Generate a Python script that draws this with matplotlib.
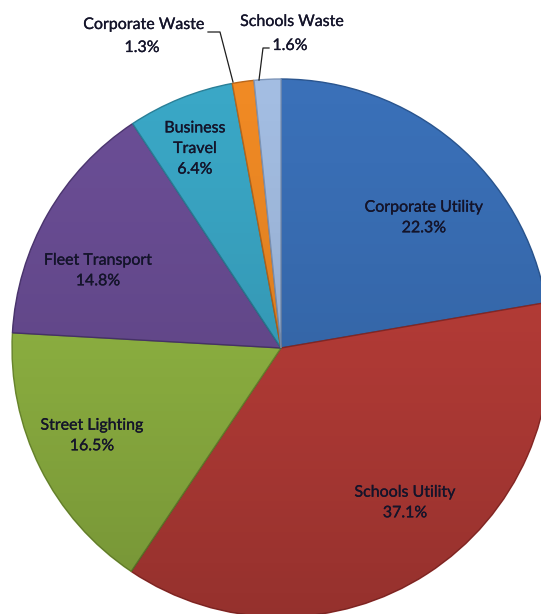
import matplotlib
matplotlib.use("Agg")
import matplotlib.pyplot as plt
import matplotlib.patheffects as pe
import numpy as np
from matplotlib.patches import Circle

categories = ["Corporate Utility", "Schools Utility", "Street Lighting",
              "Fleet Transport", "Business Travel", "Corporate Waste", "Schools Waste"]
values = [22.3, 37.1, 16.5, 14.8, 6.4, 1.3, 1.6]
colors = ["#3A70B8", "#BF3F3A", "#96BC45", "#6B4E96", "#3AA7C6", "#F08A24", "#A3BDE2"]
edge_colors = ["#2A558F", "#8E2A27", "#6E8C30", "#4C3670", "#2A7F97", "#B8661A", "#7D95B8"]

W, H = 541, 614
fig = plt.figure(figsize=(W / 100, H / 100), dpi=100)
ax = fig.add_axes([0, 0, 1, 1])

cx, cy, R = 281, H - 348, 269
wedges, _ = ax.pie(values, colors=colors, startangle=90, counterclock=False,
                   radius=R, center=(cx, cy), frame=True,
                   wedgeprops=dict(linewidth=1.0))
for w, ec in zip(wedges, edge_colors):
    w.set_edgecolor(ec)

# subtle vertical shading across the pie
grad = np.linspace(0, 1, 256)
shade = np.zeros((256, 1, 4))
shade[:, 0, 3] = (grad ** 1.3) * 0.22
im = ax.imshow(shade, extent=(cx - R, cx + R, cy - R, cy + R), origin="upper",
               aspect="auto", zorder=3, interpolation="bilinear")
im.set_clip_path(Circle((cx, cy), R, transform=ax.transData))

ax.set_xlim(0, W)
ax.set_ylim(0, H)
ax.set_aspect("auto")
ax.axis("off")

txt_color = "#14142A"
font = dict(family=["Lato", "DejaVu Sans"], fontsize=11.5, color=txt_color,
            ha="center", va="center", zorder=5, linespacing=1.6,
            path_effects=[pe.withStroke(linewidth=0.2, foreground=txt_color)])

pct = [f"{v:.1f}%" for v in values]
label_pos = [(424, 218), (405, 503), (92, 436), (98, 271), (195, 149), None, None]
for name, p, pos in zip(categories, pct, label_pos):
    if pos is None:
        continue
    text = name if name != "Business Travel" else "Business\nTravel"
    ax.text(pos[0], H - pos[1], f"{text}\n{p}", **font)

# outside labels with leader lines
ax.text(144, H - 25, categories[5], **font)
ax.text(142, H - 48, pct[5], **font)
ax.plot([208, 220, 233], [H - 32, H - 32, H - 82], color="#1E1E1E", lw=0.9, zorder=5)

ax.text(292, H - 22, categories[6], **font)
ax.text(290, H - 46, pct[6], **font)
ax.plot([259, 263, 269], [H - 80, H - 48, H - 48], color="#1E1E1E", lw=0.9, zorder=5)

fig.savefig("out.png", dpi=100, facecolor="white")
